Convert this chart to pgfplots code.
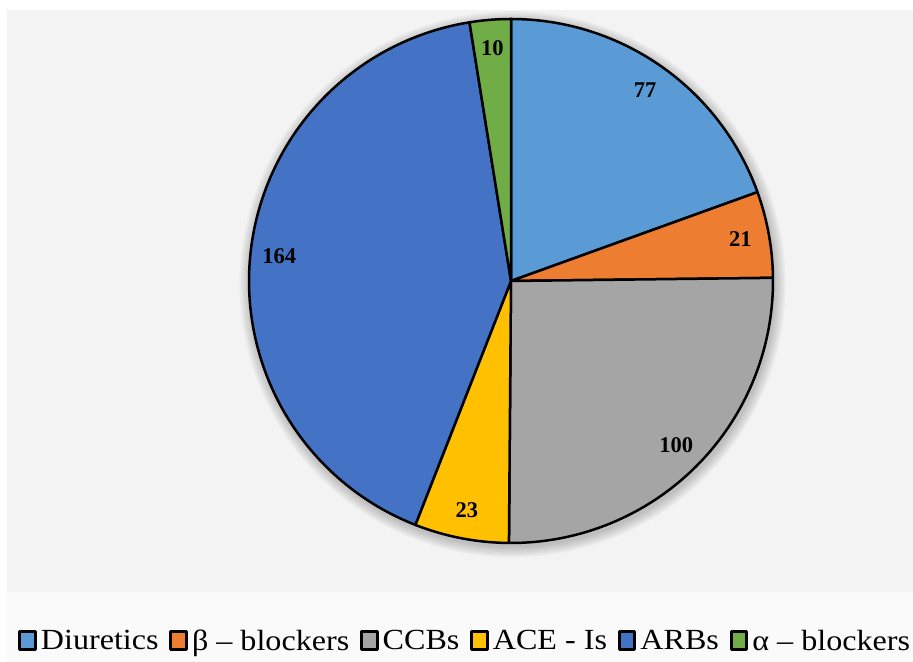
\documentclass[border=0pt]{standalone}
\usepackage{pgfplots}
\usepackage{pgfplotstable}
\pgfplotsset{compat=1.18}
\usepackage{fontspec}
\setmainfont{Liberation Serif}
\newfontfamily\legfont[FakeStretch=1.1]{Liberation Serif}
\definecolor{cDiu}{HTML}{5B9BD5}
\definecolor{cBeta}{HTML}{ED7D31}
\definecolor{cCCB}{HTML}{A5A5A5}
\definecolor{cACE}{HTML}{FFC000}
\definecolor{cARB}{HTML}{4472C4}
\definecolor{cAlpha}{HTML}{70AD47}
\definecolor{bgA}{HTML}{F3F3F3}
\definecolor{bgB}{HTML}{FAFAFA}
\newcommand\labfont{\fontsize{11.25pt}{13pt}\selectfont\bfseries}

\pgfplotstableread{
label value
Diuretics 77
Beta 21
CCBs 100
ACE 23
ARBs 164
Alpha 10
}\piedata

% total and angles computed from the values
\pgfplotstablegetrowsof{\piedata}%
\pgfmathtruncatemacro\pienrows{\pgfplotsretval-1}%
\gdef\pietotal{0}%
\foreach \i in {0,...,\pienrows}{%
  \pgfplotstablegetelem{\i}{value}\of\piedata
  \pgfmathsetmacro\pt{\pietotal+\pgfplotsretval}%
  \xdef\pietotal{\pt}}%
\gdef\piecum{0}%
\foreach \i in {0,...,\pienrows}{%
  \pgfplotstablegetelem{\i}{value}\of\piedata
  \let\pv\pgfplotsretval
  \pgfmathsetmacro\sa{90-\piecum/\pietotal*360}%
  \pgfmathsetmacro\pc{\piecum+\pv}%
  \xdef\piecum{\pc}%
  \pgfmathsetmacro\ea{90-\piecum/\pietotal*360}%
  \pgfmathsetmacro\lx{0.89*cos((\sa+\ea)/2)}%
  \pgfmathsetmacro\ly{0.89*sin((\sa+\ea)/2)}%
  \expandafter\xdef\csname pieS\i\endcsname{\sa}%
  \expandafter\xdef\csname pieE\i\endcsname{\ea}%
  \expandafter\xdef\csname pieX\i\endcsname{\lx}%
  \expandafter\xdef\csname pieY\i\endcsname{\ly}%
  \expandafter\xdef\csname pieV\i\endcsname{\pv}%
}%

\newcommand\pieslice[3]{%
  \edef\pietmp{\noexpand\addplot[fill=#2, draw=black, line width=1.25pt, line join=round,
    domain=\csname pieE#1\endcsname:\csname pieS#1\endcsname, samples=150]
    ({cos(x)},{sin(x)}) -- (axis cs:0,0) -- cycle;}%
  \pietmp
  \addlegendentry{#3}%
}

\begin{document}
\begin{tikzpicture}
\begin{axis}[
  x=131pt, y=131pt,
  xmin=-1.9504, xmax=1.5344, ymin=-1.4542, ymax=1.0725,
  hide axis, clip=false,
  legend style={at={(axis cs:-0.177,-1.376)}, anchor=center, draw=none, fill=none,
    legend columns=-1,
    font=\legfont\fontsize{14.6pt}{16pt}\selectfont,
    nodes={inner sep=0.5pt},
    /tikz/every odd column/.append style={column sep=1.5pt},
    /tikz/every even column/.append style={column sep=4.8pt}},
  legend image code/.code={\draw[#1, draw=black, line width=1.5pt] (0.5pt,-4.2pt) rectangle (8.4pt,4.8pt);},
]
% backgrounds
\fill[white] (axis cs:-1.9504,-1.4542) rectangle (axis cs:1.5344,1.0725);
\fill[bgB] (axis cs:-1.9237,-1.4542) rectangle (axis cs:1.5344,-1.1870);
\fill[bgA] (axis cs:-1.9237,-1.1870) rectangle (axis cs:1.5344,1.0344);
% soft shadow
\pgfplotsinvokeforeach{1,...,7}{\fill[black, opacity=0.03] (axis cs:0.006,-0.012) circle[radius={1+0.006*#1}];}

\pieslice{0}{cDiu}{Diuretics}
\pieslice{1}{cBeta}{β – blockers}
\pieslice{2}{cCCB}{CCBs}
\pieslice{3}{cACE}{ACE - Is}
\pieslice{4}{cARB}{ARBs}
\pieslice{5}{cAlpha}{α – blockers}

\pgfplotsinvokeforeach{0,...,5}{%
  \edef\pietmp{\noexpand\node[font=\noexpand\labfont] at (axis cs:\csname pieX#1\endcsname,\csname pieY#1\endcsname) {\csname pieV#1\endcsname};}%
  \pietmp}
\end{axis}
\pgfresetboundingbox
\useasboundingbox (current axis.south west) rectangle (current axis.north east);
\end{tikzpicture}
\end{document}
